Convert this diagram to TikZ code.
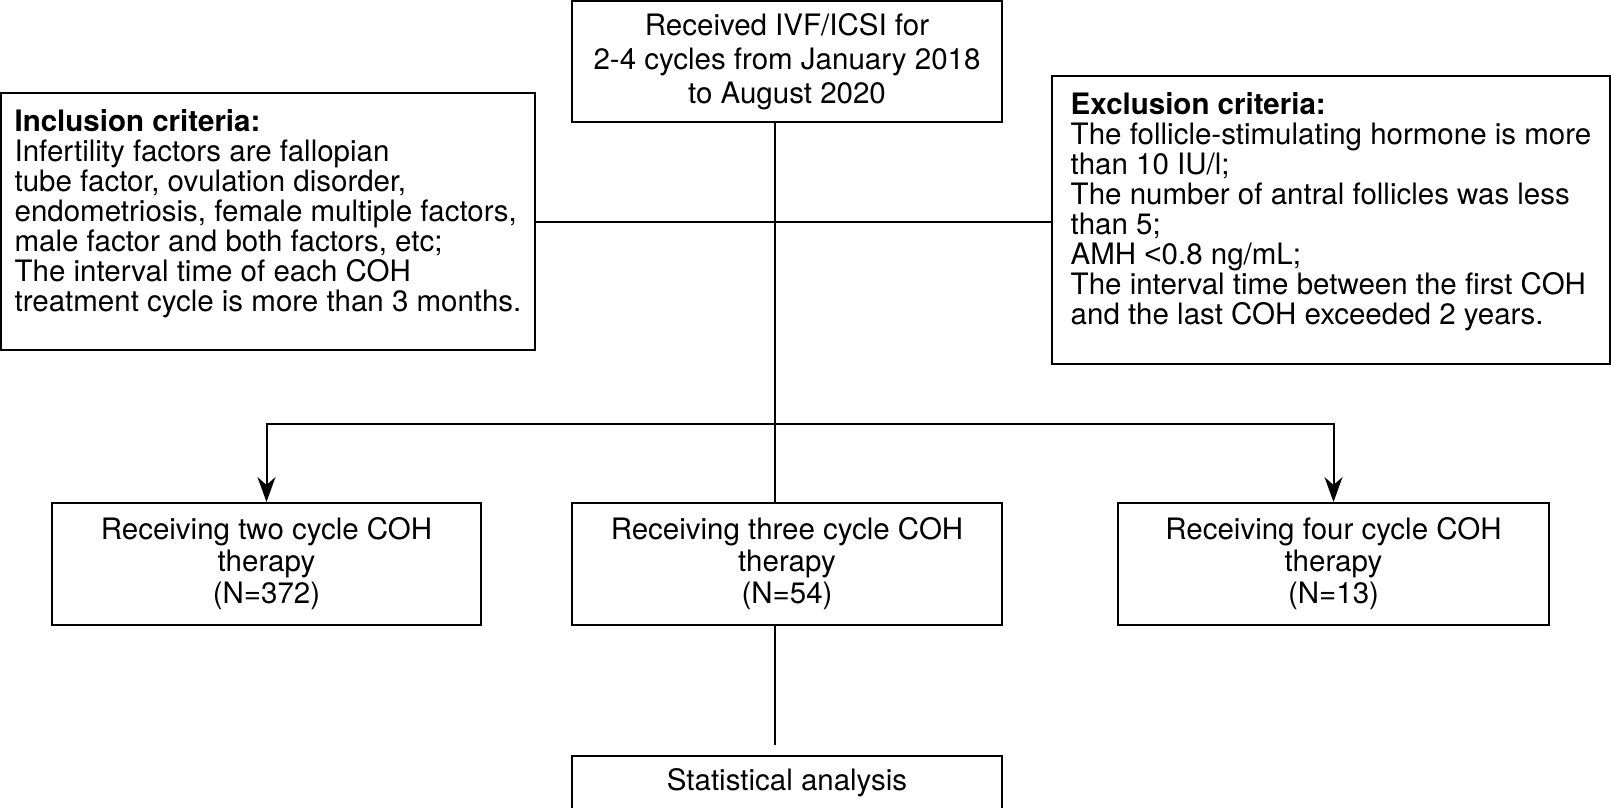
\documentclass[tikz,border=0pt]{standalone}
\usepackage{fontspec}
\setmainfont{TeX Gyre Heros}
\newfontfamily\symfont{Liberation Sans}
\usepackage{tikz}
\usetikzlibrary{arrows,arrows.meta,positioning}

\begin{document}
\begin{tikzpicture}[>={Stealth[length=25pt,width=18pt,inset=8pt]}, line width=2pt,
	every node/.style={font=\fontsize{29.5}{32}\selectfont},
	box/.style={draw,line width=2pt,align=center,inner sep=0pt},
	crit/.style={draw,line width=2pt,align=left,inner sep=0pt,font=\fontsize{29.5}{30}\selectfont}]
		\useasboundingbox (0,0) rectangle (1611pt,-807pt);
		\node[box,minimum width=430pt,minimum height=121pt,font=\fontsize{29.5}{34}\selectfont] (recv) at (787pt,-61.5pt) {Received IVF/ICSI for\\2-4 cycles from January 2018\\to August 2020};
		\node[crit,minimum width=534pt,minimum height=257pt] (incl) at (268pt,-221.5pt) {\textbf{Inclusion criteria:}\\Infertility factors are fallopian\\tube factor, ovulation disorder,\\endometriosis, female multiple factors,\\male factor and both factors, etc;\\The interval time of each COH\\treatment cycle is more than 3 months.\rule[-21pt]{0pt}{21pt}};
		\node[crit,minimum width=558pt,minimum height=288pt] (excl) at (1331pt,-220pt) {\textbf{Exclusion criteria:}\\The follicle-stimulating hormone is more\\than 10 IU/l;\\The number of antral follicles was less\\than 5;\\AMH {\symfont <}0.8 ng/mL;\\The interval time between the first COH\\and the last COH exceeded 2 years.\rule[-22pt]{0pt}{22pt}};
		\node[box,minimum width=430pt,minimum height=122pt] (mid) [below=379pt of recv] {Receiving three cycle COH\\therapy\\(N=54)};
		\node[box,minimum width=429pt,minimum height=122pt] (lft) [left=89pt of mid] {Receiving two cycle COH\\therapy\\(N=372)};
		\node[box,minimum width=431pt,minimum height=122pt] (rgt) [right=114pt of mid] {Receiving four cycle COH\\therapy\\(N=13)};
		\node[box,minimum width=430pt,minimum height=54pt] (stat) [below=129pt of mid] {Statistical analysis};
		\coordinate[below left=301pt and 12pt of recv.south] (split);

		\draw (incl.east) -- (incl.east -| excl.west);
		\draw (recv.south -| split) -- (mid.north -| split);
		\draw[->] (split) -| (lft.north);
		\draw[->] (split) -| (rgt.north);
		\draw[shorten >=10pt] (mid.south -| split) -- (stat.north -| split);
	\end{tikzpicture}
\end{document}
